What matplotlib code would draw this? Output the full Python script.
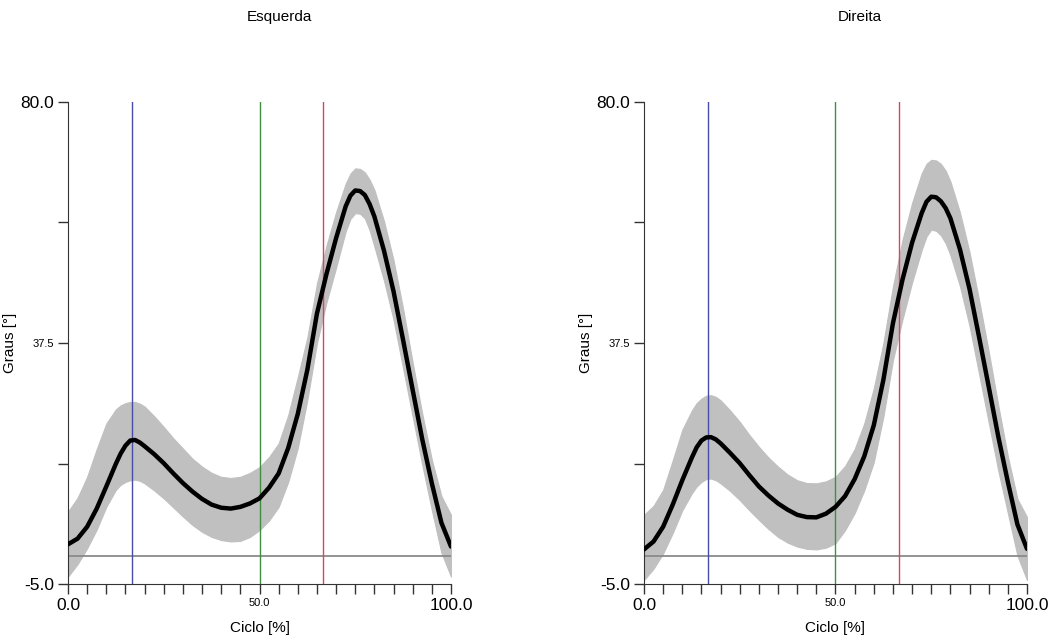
import matplotlib.pyplot as plt
import numpy as np

plt.rcParams['font.family'] = ['Liberation Sans', 'DejaVu Sans']

# gait cycle in percent (denser samples around the two peaks)
ciclo = [0, 2.5, 5, 7.5, 10, 12.5, 13.75, 15, 16.25, 17.5, 18.75, 20, 22.5, 25, 27.5, 30,
         32.5, 35, 37.5, 40, 42.5, 45, 47.5, 50, 52.5, 55, 57.5, 60, 62.5, 65, 67.5, 70,
         72.5, 73.75, 75, 76.25, 77.5, 78.75, 80, 82.5, 85, 87.5, 90, 92.5, 95, 97.5, 100]

esq_media = [2.0, 3.0, 5.1, 8.3, 12.2, 16.2, 18.0, 19.4, 20.3, 20.4, 19.95, 19.3, 17.9, 16.3,
             14.5, 12.8, 11.3, 10.0, 9.0, 8.45, 8.3, 8.6, 9.2, 10.1, 12.0, 14.5, 19.0, 25.0,
             32.8, 42.7, 49.7, 56.0, 61.6, 63.5, 64.4, 64.3, 63.6, 62.0, 59.8, 53.8, 46.6,
             38.0, 29.2, 20.5, 12.75, 5.8, 1.6]
esq_sup = [7.75, 10.2, 13.9, 18.8, 23.3, 25.8, 26.5, 26.9, 27.1, 27.1, 26.8, 26.3, 24.6, 22.7,
           20.7, 18.9, 17.1, 15.7, 14.6, 13.9, 13.7, 13.9, 14.6, 15.6, 17.4, 19.8, 24.8, 31.5,
           38.5, 48.0, 54.7, 60.6, 65.6, 67.4, 68.3, 68.2, 67.6, 66.3, 64.5, 59.0, 52.1,
           43.5, 34.0, 25.0, 16.9, 10.5, 7.2]
esq_inf = [-3.7, -1.5, 1.3, 4.6, 8.6, 11.6, 12.5, 13.0, 13.3, 13.4, 13.2, 12.75, 11.5, 10.1,
           8.5, 6.9, 5.4, 4.2, 3.3, 2.75, 2.5, 2.6, 3.3, 4.5, 6.2, 8.6, 13.0, 19.0,
           27.5, 37.5, 44.7, 50.8, 57.2, 59.4, 60.4, 60.3, 59.5, 57.4, 54.5, 48.5, 41.6,
           33.0, 24.5, 16.0, 8.0, 0.5, -3.7]

dir_media = [1.1, 2.5, 5.1, 9.0, 13.3, 17.3, 19.1, 20.3, 20.85, 20.9, 20.5, 19.8, 18.1, 16.3,
             14.2, 12.2, 10.6, 9.2, 8.1, 7.2, 6.8, 6.75, 7.4, 8.6, 10.5, 13.5, 17.5, 23.0,
             31.0, 41.0, 48.7, 55.2, 60.4, 62.4, 63.3, 63.2, 62.5, 61.3, 59.5, 54.0, 47.0,
             38.5, 29.8, 21.0, 13.0, 5.5, 1.2]
dir_sup = [7.2, 8.8, 11.6, 16.8, 22.2, 25.6, 26.9, 27.7, 28.2, 28.3, 28.0, 27.4, 25.6, 23.6,
           21.3, 19.2, 17.3, 15.7, 14.3, 13.3, 12.8, 12.75, 13.1, 13.9, 15.8, 18.8, 23.3, 29.5,
           37.5, 47.5, 55.7, 62.2, 67.4, 69.1, 69.8, 69.7, 69.1, 67.9, 66.0, 60.5, 53.5,
           45.0, 36.0, 26.5, 17.5, 10.0, 6.8]
dir_inf = [-4.3, -2.3, 0.4, 4.0, 8.0, 11.0, 12.2, 13.0, 13.5, 13.6, 13.3, 12.75, 11.4, 9.8,
           8.0, 6.3, 4.7, 3.3, 2.3, 1.6, 1.2, 1.1, 1.4, 2.2, 4.5, 7.5, 11.5, 16.5,
           24.5, 34.5, 41.7, 48.2, 53.9, 56.3, 57.5, 57.3, 56.5, 55.1, 53.0, 47.5, 40.5,
           32.0, 23.5, 15.0, 7.5, 0.0, -4.3]

# event markers (% of cycle)
eventos_esq = [16.7, 50.0, 66.5]
eventos_dir = [16.7, 50.0, 66.6]
cores_eventos = ['#4a4aa8', '#3f8f3f', '#d04a5a']

titulos = ['Esquerda', 'Direita']

fig = plt.figure(figsize=(10.53, 6.39), dpi=100)
ax1 = fig.add_axes([68 / 1053, 55 / 639, 383 / 1053, 482 / 639])
ax2 = fig.add_axes([644 / 1053, 55 / 639, 383 / 1053, 482 / 639])

dados = [(ax1, esq_media, esq_sup, esq_inf, eventos_esq),
         (ax2, dir_media, dir_sup, dir_inf, eventos_dir)]

for ax, media, sup, inf, eventos in dados:
    ax.fill_between(ciclo, inf, sup, color='#c0c0c0', lw=0.8, edgecolor='#c0c0c0',
                    joinstyle='round', zorder=1)
    ax.axhline(0, color='#8a8a8a', lw=1.3, zorder=2)
    for ev, c in zip(eventos, cores_eventos):
        ax.axvline(ev, color=c, lw=1.0, zorder=3)
    ax.plot(ciclo, media, color='black', lw=3.2, zorder=4,
            solid_capstyle='round', solid_joinstyle='round')

    ax.set_xlim(0, 100)
    ax.set_ylim(-5, 80)
    ax.spines['top'].set_visible(False)
    ax.spines['right'].set_visible(False)
    ax.spines['left'].set_color('#333333')
    ax.spines['bottom'].set_color('#333333')

    ax.set_yticks([-5, 37.5, 80])
    ax.set_yticklabels(['-5.0', '37.5', '80.0'])
    ax.set_yticks([16.25, 58.75], minor=True)
    for i, lab in enumerate(ax.get_yticklabels()):
        lab.set_fontsize(8 if i == 1 else 12.5)

    ax.set_xticks([0, 50, 100])
    ax.set_xticklabels(['0.0', '50.0', '100.0'])
    ax.set_xticks(np.arange(5, 100, 5), minor=True)
    for i, lab in enumerate(ax.get_xticklabels()):
        lab.set_fontsize(8 if i == 1 else 12.5)

    ax.tick_params(axis='both', which='both', length=7, width=1, color='#333333',
                   direction='out', pad=3)

    ax.set_xlabel('Ciclo [%]', fontsize=11)
    ax.xaxis.set_label_coords(0.5, -0.076)
    ax.set_ylabel('Graus [°]', fontsize=11)
    ax.yaxis.set_label_coords(-0.133, 0.5)

fig.text(279 / 1053, 1 - 17 / 639, titulos[0], ha='center', va='center', fontsize=11)
fig.text(860 / 1053, 1 - 17 / 639, titulos[1], ha='center', va='center', fontsize=11)

fig.savefig('out.png', dpi=100)
